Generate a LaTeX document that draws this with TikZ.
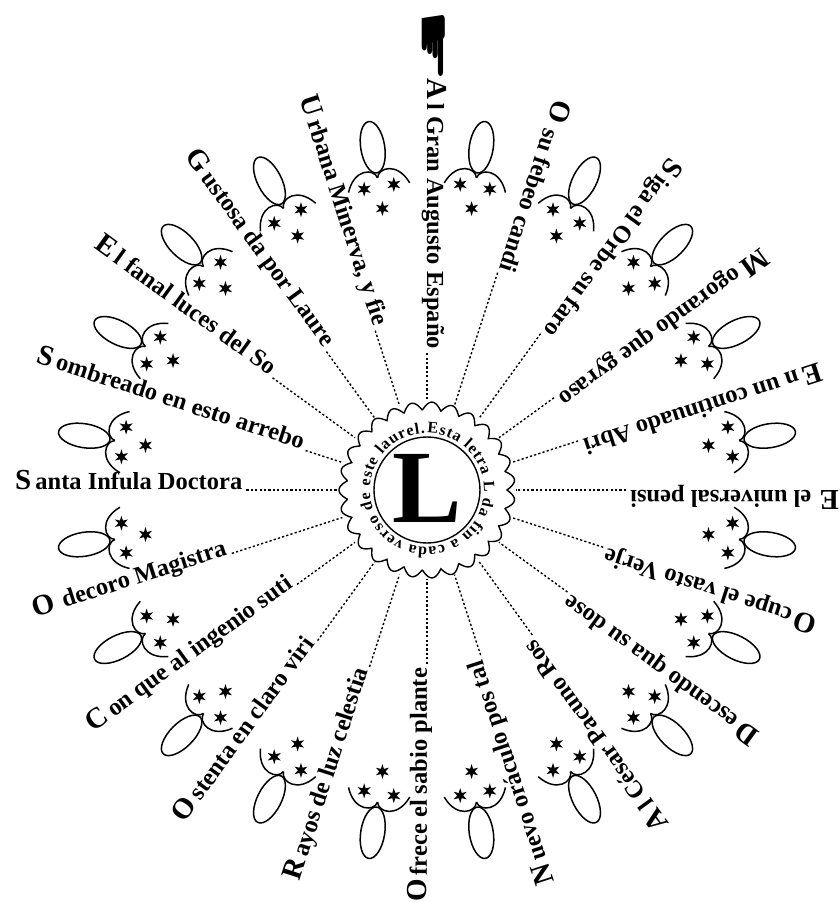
\documentclass[tikz,border=0pt]{standalone}
\usepackage{fontspec}
\setmainfont{Liberation Serif}
\newfontfamily\dejavu{DejaVu Sans}
\usetikzlibrary{decorations.text}
\tikzset{
  raytext/.style={font=\fontsize{24.5}{24.5}\bfseries\selectfont, inner sep=0pt, anchor=base west},
  dotline/.style={line width=1.4pt, dash pattern=on 2.2pt off 2.2pt, shorten <=4pt},
  orn/.style={line width=1.5pt},
  starp/.pic={\fill (90:7.5) -- (120:3) -- (150:7.5) -- (180:3) -- (210:7.5) -- (240:3) -- (270:7.5) -- (300:3) -- (330:7.5) -- (0:3) -- (30:7.5) -- (60:3) -- cycle;},
  fleur/.pic={
    \draw[orn] (31,0) ellipse[x radius=26, y radius=12];
    \draw[orn] (0,0) .. controls (10,2) and (13,22) .. (-10,31);
    \draw[orn] (0,0) .. controls (10,-2) and (13,-22) .. (-10,-31);
    \pic at (-9,15) {starp};
    \pic at (-9,-15) {starp};
    \pic at (-31,0) {starp};
  }
}
\begin{document}
\begin{tikzpicture}[x=1pt,y=1pt]
\fill[white] (-427,-412) rectangle (412,490);
\useasboundingbox (-427,-412) rectangle (412,490);

% central emblem
\draw[line width=1.4pt] plot[domain=0:360, samples=721, variable=\t] (\t:{80+8*abs(sin(13.5*\t))}) -- cycle;
\draw[line width=1.4pt] (0,0) circle[radius=53];
\path[decorate, decoration={text along path, text align=fit to path,
  text={|\fontsize{16}{16}\bfseries\selectfont|Esta letra L da fin a cada verso de este laurel.}}]
  (90:57) arc[start angle=90, end angle=-268, radius=57];
\node[font=\fontsize{104}{104}\bfseries\selectfont, inner sep=0pt] (L) at (0,2) {L};

% pointing hand
\node[rotate=-90, font=\dejavu\fontsize{44}{44}\selectfont, inner sep=0pt] (hand) at (4,444) {\scalebox{1.9}[1.15]{☛}};

% rays
\foreach \ang/\ini/\rest [count=\i] in {
  90/A/{l Gran Augusto Españo},
  72/O/{\,su febeo candi},
  54/S/{iga el Orbe su faro},
  36/M/{ogorando que gyraso},
  18/E/{n un continuado Abri},
  0/E/{\,el universal pensi},
  -18/O/{cupe el vasto Verje},
  -36/D/{escendo qua su dose},
  -54/A/{l César Pacuno Ros},
  -72/N/{uevo oráculo pos tal},
  -90/O/{frece el sabio plante},
  -108/R/{ayos de luz celestia},
  -126/O/{stenta en claro viri},
  -144/C/{on que al ingenio suti},
  -162/O/{\,decoro Magistra},
  180/S/{anta Infula Doctora},
  162/S/{ombreado en esto arrebo},
  144/E/{l fanal luces del So},
  126/G/{ustosa da por Laure},
  108/U/{rbana Minerva, y fie}} {
  \node[raytext, rotate=\ang+180] (t\i) at (\ang:412) {{\fontsize{29}{29}\selectfont\ini}\,\rest};
  \coordinate (r\i) at (\ang:89);
  \draw[dotline] (t\i.base east) -- (r\i);
}

% ornaments between rays
\foreach \a in {9,27,...,351} {
  \pic[rotate=\a] at (\a:316) {fleur};
}
\end{tikzpicture}
\end{document}
